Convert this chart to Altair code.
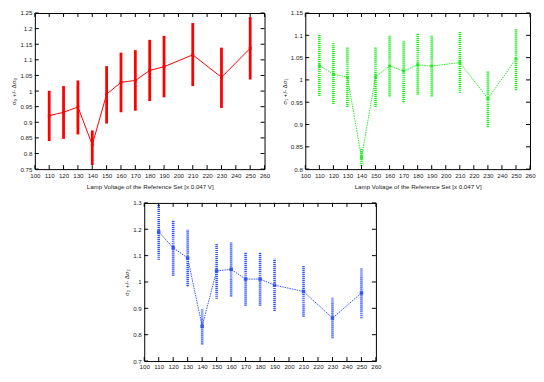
import altair as alt
import pandas as pd

voltage = [110, 120, 130, 140, 150, 160, 170, 180, 190, 210, 230, 250]

s0 = [0.921, 0.932, 0.949, 0.828, 0.990, 1.028, 1.034, 1.066, 1.078, 1.116, 1.044, 1.137]
s0_lo = [0.840, 0.847, 0.861, 0.763, 0.896, 0.932, 0.937, 0.968, 0.980, 1.016, 0.946, 1.037]
s0_hi = [1.001, 1.016, 1.034, 0.874, 1.080, 1.123, 1.131, 1.164, 1.177, 1.218, 1.139, 1.237]

s1 = [1.032, 1.013, 1.006, 0.826, 1.007, 1.031, 1.020, 1.034, 1.031, 1.039, 0.958, 1.047]
s1_lo = [0.964, 0.946, 0.939, 0.807, 0.939, 0.963, 0.950, 0.967, 0.963, 0.971, 0.894, 0.977]
s1_hi = [1.102, 1.083, 1.074, 0.847, 1.074, 1.099, 1.087, 1.104, 1.099, 1.108, 1.020, 1.115]

s2 = [1.190, 1.130, 1.091, 0.832, 1.042, 1.048, 1.011, 1.011, 0.988, 0.964, 0.863, 0.958]
s2_lo = [1.084, 1.024, 0.984, 0.763, 0.936, 0.945, 0.910, 0.910, 0.890, 0.868, 0.786, 0.862]
s2_hi = [1.298, 1.235, 1.198, 0.898, 1.144, 1.151, 1.113, 1.113, 1.088, 1.061, 0.940, 1.053]

x_ticks = [100, 110, 120, 130, 140, 150, 160, 170, 180, 190, 200, 210, 220, 230, 240, 250, 260]
y0_ticks = [0.75, 0.8, 0.85, 0.9, 0.95, 1.0, 1.05, 1.1, 1.15, 1.2, 1.25]
y1_ticks = [0.8, 0.85, 0.9, 0.95, 1.0, 1.05, 1.1, 1.15]
y2_ticks = [0.7, 0.8, 0.9, 1.0, 1.1, 1.2, 1.3]

x_title = "Lamp Voltage of the Reference Set [x 0.047 V]"
y_titles = ["σ₀ +/- Δσ₀", "σ₁ +/- Δσ₁", "σ₂ +/- Δσ₂"]

FONT = "Liberation Sans"


def panel(vals, lo, hi, yticks, color, ytitle, xtitle, w, h, line_dash, bar_w, bar_dash,
          pt_size, anchor=None):
    df = pd.DataFrame({"v": voltage, "s": vals, "lo": lo, "hi": hi})
    xs = alt.Scale(domain=[x_ticks[0], x_ticks[-1]], nice=False, zero=False)
    ys = alt.Scale(domain=[yticks[0], yticks[-1]], nice=False, zero=False)
    xaxis = alt.Axis(values=x_ticks, format="d", ticks=False, domain=False, grid=False,
                     labelPadding=3, labelOverlap=False, labelBound=False, labelFlush=False,
                     title=xtitle, titlePadding=5)
    yaxis = alt.Axis(values=yticks, format=".2~f", ticks=False, domain=False, grid=False,
                     labelPadding=3, labelOverlap=False, labelBound=False, labelFlush=False,
                     title=ytitle, titlePadding=3)
    X = lambda f: alt.X(f, scale=xs, axis=xaxis)
    Y = lambda f: alt.Y(f, scale=ys, axis=yaxis)
    base = alt.Chart(df)
    bar_kw = dict(color=color, strokeWidth=bar_w)
    if bar_dash:
        bar_kw["strokeDash"] = bar_dash
    line_kw = dict(color=color, strokeWidth=1)
    if line_dash:
        line_kw["strokeDash"] = line_dash
    err = base.mark_rule(**bar_kw).encode(x=X("v:Q"), y=Y("lo:Q"), y2="hi:Q")
    line = base.mark_line(**line_kw).encode(x=X("v:Q"), y=Y("s:Q"))
    pts = base.mark_square(size=pt_size, color=color, opacity=1).encode(x=X("v:Q"), y=Y("s:Q"))

    xt = alt.Chart(pd.DataFrame({"t": x_ticks}))
    yt = alt.Chart(pd.DataFrame({"t": yticks}))
    tk = dict(color="black", strokeWidth=1)
    xb = xt.mark_rule(**tk).encode(x=X("t:Q"), y=alt.value(h), y2=alt.value(h - 4))
    xtop = xt.mark_rule(**tk).encode(x=X("t:Q"), y=alt.value(0), y2=alt.value(4))
    yl = yt.mark_rule(**tk).encode(y=Y("t:Q"), x=alt.value(0), x2=alt.value(4))
    yr = yt.mark_rule(**tk).encode(y=Y("t:Q"), x=alt.value(w), x2=alt.value(w - 4))
    layers = [err, line, pts, xb, xtop, yl, yr]
    if anchor is not None:
        ax, ay = anchor
        inv = alt.Chart(pd.DataFrame({"a": [0]})).mark_rule(
            color="white", strokeWidth=1, clip=False
        ).encode(x=alt.value(ax), x2=alt.value(ax + 1), y=alt.value(ay))
        layers.append(inv)
    return alt.layer(*layers).properties(width=w, height=h)


H_TOP = 157
H_BOT = 159

c1 = panel(s0, s0_lo, s0_hi, y0_ticks, "#ff0000", y_titles[0], x_title, 231, H_TOP,
           None, 2.8, None, 8, anchor=(-26, H_TOP + 24))
c2 = panel(s1, s1_lo, s1_hi, y1_ticks, "#22ee22", y_titles[1], x_title, 226, H_TOP,
           [1.5, 1], 2.6, [1.2, 0.8], 8)
c3 = panel(s2, s2_lo, s2_hi, y2_ticks, "#3355ff", y_titles[2], "", 233, H_BOT,
           [1.5, 1], 2.6, [1.2, 0.8], 12, anchor=(-20, -6))

spacer = alt.Chart(pd.DataFrame({"a": [0]})).mark_point(opacity=0).encode(
    x=alt.value(0), y=alt.value(0)
).properties(width=69, height=1, view=alt.ViewBackground(strokeOpacity=0))

top = alt.hconcat(c1, c2, spacing=41, bounds="flush")
bottom = alt.hconcat(spacer, c3, spacing=41, bounds="flush")

chart = alt.vconcat(top, bottom, spacing=2).properties(
    padding=0,
    background="white",
).configure_view(
    stroke="black", strokeWidth=1
).configure_axis(
    labelFont=FONT, labelFontSize=6.2, labelColor="#222222", labelOverlap=False,
    labelFlush=False,
    titleFont=FONT, titleFontSize=6.2, titleFontWeight="normal", titleColor="#222222",
)

chart.save("out.html", embed_options={"renderer": "svg", "actions": False})
